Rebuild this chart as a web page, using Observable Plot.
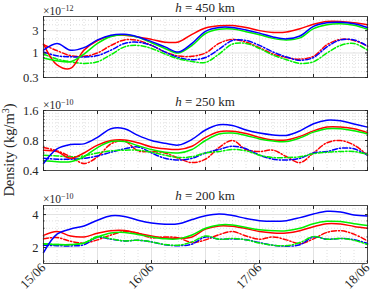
<!DOCTYPE html>
<html><head><meta charset="utf-8">
<script src="https://cdn.jsdelivr.net/npm/d3@7"></script>
<script src="https://cdn.jsdelivr.net/npm/@observablehq/plot@0.6"></script>
<style>
body{margin:0;background:#fff;}
#chart{position:relative;width:374px;height:296px;font-family:"Liberation Serif",serif;color:#262626;overflow:hidden;}
#chart svg{position:absolute;left:0;}
.title{position:absolute;left:43px;width:324px;text-align:center;font-size:13px;line-height:13px;}
.expo{position:absolute;left:43px;font-size:11.5px;line-height:11px;}
.expo sup{font-size:8px;vertical-align:4px;}
.ylab{position:absolute;left:9px;top:150px;transform:translate(-50%,-50%) rotate(-90deg);font-size:14.5px;white-space:nowrap;}
.ylab sup{font-size:10px;}
</style></head><body><div id="chart"></div>
<script>
// time axis (hours since 15/06 00:00)
const hours = [0,3,6,9,12,15,18,21,24,27,30,33,36,39,42,45,48,51,54,57,60,63,66,69,72];
const dayTicks = [0,24,48,72];
const dayLabels = ["15/06","16/06","17/06","18/06"];

// h = 450 km  (x 1e-12 kg/m^3)
const r450  = [1.55,0.56,0.47,1.15,1.85,2.3,2.4,2.2,1.95,1.7,1.72,2.5,3.4,3.8,3.85,3.5,3.0,2.75,2.8,3.3,4.1,4.7,4.7,4.4,4.0];
const b450  = [1.15,1.6,1.15,1.3,1.9,2.4,2.5,2.2,1.75,1.35,1.05,1.6,2.9,3.5,3.5,3.1,2.65,2.2,2.0,2.3,3.7,4.4,4.5,4.2,3.5];
const g450  = [0.78,0.68,0.65,0.95,1.6,2.25,2.45,2.15,1.65,1.25,1.0,1.45,2.6,3.2,3.25,2.85,2.45,2.05,1.9,2.1,3.3,4.0,4.2,3.9,3.2];
const r450d = [1.5,1.12,0.88,0.85,1.0,1.45,1.9,1.85,1.45,1.05,0.86,0.85,1.0,1.6,1.95,1.7,1.3,0.95,0.8,0.74,0.85,1.5,1.95,1.85,1.4];
const b450d = [1.05,0.87,0.83,0.82,0.88,1.15,1.6,1.7,1.45,1.05,0.8,0.72,0.8,1.2,1.85,1.85,1.45,1.05,0.82,0.7,0.8,1.35,1.9,1.9,1.4];
const g450d = [0.95,0.74,0.65,0.6,0.65,0.92,1.35,1.45,1.25,0.95,0.75,0.66,0.63,0.95,1.55,1.6,1.25,0.9,0.72,0.6,0.65,1.0,1.45,1.6,1.15];

// h = 250 km  (x 1e-10)
const r250  = [0.64,0.62,0.53,0.6,0.72,0.8,0.81,0.76,0.69,0.66,0.65,0.7,0.86,0.98,0.99,0.94,0.86,0.81,0.81,0.88,1.0,1.09,1.09,1.05,0.96];
const b250  = [0.47,0.66,0.73,0.74,0.86,1.05,1.05,0.9,0.8,0.75,0.72,0.82,1.02,1.15,1.13,1.02,0.95,0.91,0.9,1.0,1.18,1.28,1.26,1.17,1.09];
const g250  = [0.5,0.49,0.49,0.55,0.68,0.78,0.78,0.71,0.65,0.61,0.6,0.65,0.8,0.93,0.95,0.9,0.83,0.79,0.78,0.85,0.97,1.05,1.05,1.0,0.93];
const r250d = [0.68,0.63,0.55,0.47,0.55,0.74,0.79,0.63,0.62,0.6,0.53,0.48,0.52,0.68,0.8,0.65,0.62,0.64,0.55,0.48,0.6,0.76,0.8,0.72,0.57];
const b250d = [0.53,0.52,0.52,0.53,0.56,0.61,0.66,0.69,0.6,0.53,0.51,0.53,0.6,0.65,0.7,0.66,0.57,0.52,0.51,0.53,0.6,0.62,0.67,0.66,0.57];
const g250d = [0.57,0.56,0.55,0.56,0.6,0.63,0.64,0.64,0.61,0.57,0.54,0.55,0.6,0.62,0.65,0.63,0.57,0.54,0.54,0.55,0.59,0.61,0.62,0.62,0.58];

// h = 200 km  (x 1e-10)
const r200  = [2.58,2.8,2.55,2.5,2.7,2.85,2.86,2.7,2.55,2.45,2.43,2.5,2.95,3.15,3.13,2.98,2.8,2.72,2.72,2.85,3.1,3.3,3.28,3.12,3.0];
const b200  = [1.8,2.65,2.95,3.15,3.55,3.9,3.85,3.55,3.35,3.27,3.3,3.6,3.9,4.05,3.92,3.68,3.52,3.47,3.52,3.75,4.05,4.28,4.22,3.97,3.88];
const g200  = [2.15,2.13,2.13,2.2,2.5,2.72,2.75,2.63,2.5,2.4,2.4,2.6,3.0,3.22,3.22,3.05,2.9,2.85,2.85,3.0,3.3,3.47,3.45,3.3,3.18];
const r200d = [2.4,2.47,2.28,2.2,2.35,2.6,2.8,2.7,2.45,2.5,2.45,2.22,2.35,2.62,2.8,2.55,2.38,2.5,2.35,2.17,2.4,2.75,2.85,2.65,2.3];
const b200d = [2.1,2.08,2.07,2.12,2.48,2.38,2.3,2.33,2.25,2.12,2.08,2.15,2.5,2.38,2.4,2.36,2.22,2.1,2.06,2.12,2.5,2.38,2.42,2.36,2.18];
const g200d = [2.17,2.13,2.12,2.2,2.52,2.4,2.3,2.33,2.25,2.13,2.1,2.25,2.55,2.38,2.42,2.35,2.2,2.1,2.08,2.22,2.52,2.38,2.42,2.33,2.13];

// axis ticks
const yTicks450 = [0.3,1,3];
const yTicks250 = [0.4,0.8,1.6];
const yTicks200 = [2,4];
const yMinor450 = [0.4,0.5,0.6,0.7,0.8,0.9,2,4,5];
const yMinor250 = [0.5,0.6,0.7,0.9,1.0,1.1,1.2,1.3,1.4,1.5];
const yMinor200 = [1.5,2.5,3,3.5,4.5];
const xMajor = [0,12,24,36,48,60,72];
const xMinor = hours.filter(h => h % 12 !== 0);

const RED = "#ff0000", BLUE = "#0000ff", GREEN = "#00f000";
const DASH = "5,2,1.3,2";

function panel({sets, domain, ticks, minor, marginTop, plotH, marginBottom, labels}) {
  const lines = sets.map(([vals, color, dash]) =>
    Plot.line(hours, {x: d => d, y: (d, i) => vals[i], stroke: color, strokeWidth: 1.5,
      strokeDasharray: dash, curve: "catmull-rom"}));
  const marks = [
    Plot.gridX(xMinor, {stroke: "#c8c8c8", strokeOpacity: 0.6, strokeDasharray: "1,2"}),
    Plot.gridY(minor, {stroke: "#c8c8c8", strokeOpacity: 0.6, strokeDasharray: "1,2"}),
    Plot.gridX(xMajor, {stroke: "#e2e2e2", strokeOpacity: 1}),
    Plot.gridY(ticks, {stroke: "#e2e2e2", strokeOpacity: 1}),
    ...lines,
    Plot.frame({stroke: "#262626", strokeWidth: 0.8}),
    Plot.text(ticks, {y: d => d, text: d => String(d), frameAnchor: "left", textAnchor: "end", dx: -5,
      fontSize: 12.5, fill: "#262626"}),
    Plot.axisY(ticks, {anchor: "left", tickSize: -3, tickFormat: () => "", stroke: "#262626"}),
    Plot.axisY(ticks, {anchor: "right", tickSize: -3, tickFormat: () => "", stroke: "#262626"}),
    Plot.axisY(minor, {anchor: "left", tickSize: -1.5, tickFormat: () => "", stroke: "#262626"}),
    Plot.axisY(minor, {anchor: "right", tickSize: -1.5, tickFormat: () => "", stroke: "#262626"}),
    Plot.axisX(xMajor, {anchor: "bottom", tickSize: -3, tickFormat: () => "", stroke: "#262626"}),
    Plot.axisX(xMajor, {anchor: "top", tickSize: -3, tickFormat: () => "", stroke: "#262626"})
  ];
  if (labels) {
    marks.push(Plot.axisX(dayTicks, {anchor: "bottom", tickSize: 0, tickPadding: 2, tickRotate: -45,
      tickFormat: (d, i) => dayLabels[i], fontSize: 13}));
  }
  return Plot.plot({
    width: 374, height: marginTop + plotH + marginBottom,
    marginLeft: 43, marginRight: 7, marginTop, marginBottom,
    style: {fontFamily: "Liberation Serif, serif", color: "#262626", background: "transparent", overflow: "visible"},
    x: {domain: [0, 72]},
    y: {type: "log", domain},
    marks
  });
}

const chart = document.getElementById("chart");
function add(svg, top) { svg.style.top = top + "px"; chart.appendChild(svg); }

const order = (r, b, g, rd, bd, gd) => [[rd, RED, DASH], [bd, BLUE, DASH], [gd, GREEN, DASH], [r, RED, null], [g, GREEN, null], [b, BLUE, null]];

add(panel({sets: order(r450, b450, g450, r450d, b450d, g450d), domain: [0.3, 6], ticks: yTicks450, minor: yMinor450,
  marginTop: 16, plotH: 61, marginBottom: 2}), 0);
add(panel({sets: order(r250, b250, g250, r250d, b250d, g250d), domain: [0.4, 1.6], ticks: yTicks250, minor: yMinor250,
  marginTop: 15, plotH: 60, marginBottom: 2}), 95);
add(panel({sets: order(r200, b200, g200, r200d, b200d, g200d), domain: [1.43, 4.84], ticks: yTicks200, minor: yMinor200,
  marginTop: 15, plotH: 58, marginBottom: 33, labels: true}), 190);

const html = [
  `<div class="title" style="top:1px"><i>h</i> = 450 km</div>`,
  `<div class="expo" style="top:3px">×10<sup>−12</sup></div>`,
  `<div class="title" style="top:95px"><i>h</i> = 250 km</div>`,
  `<div class="expo" style="top:97px">×10<sup>−10</sup></div>`,
  `<div class="title" style="top:189px"><i>h</i> = 200 km</div>`,
  `<div class="expo" style="top:191px">×10<sup>−10</sup></div>`,
  `<div class="ylab">Density (kg/m<sup>3</sup>)</div>`
].join("");
chart.insertAdjacentHTML("beforeend", html);
</script>
</body></html>
